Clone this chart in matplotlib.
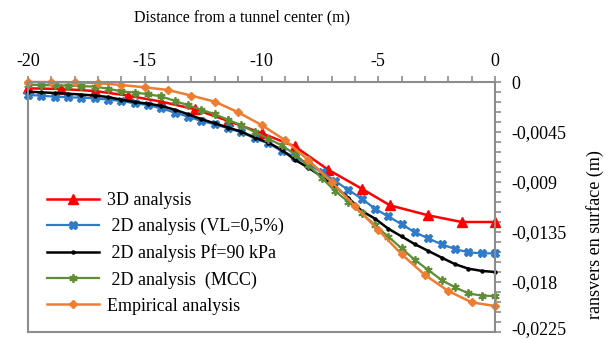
import numpy as np
import matplotlib
matplotlib.use("Agg")
import matplotlib.pyplot as plt
from matplotlib.ticker import FixedLocator, MultipleLocator, FixedFormatter

plt.rcParams['font.family'] = ['Liberation Serif', 'DejaVu Serif']

# ---------------- data ----------------
x_3d = [-20, -18.57, -17.14, -15.71, -14.29, -12.86, -11.43, -10.0, -8.57, -7.14,
        -5.71, -4.5, -2.86, -1.43, 0]
y_3d = [-0.00057, -0.00063, -0.00081, -0.00123, -0.00177, -0.00245, -0.0035, -0.0046,
        -0.0058, -0.0079, -0.0096, -0.0111, -0.0120, -0.0126, -0.0126]

x_2d = [-20.0, -19.43, -18.86, -18.29, -17.71, -17.14, -16.57, -16.0, -15.43, -14.86,
        -14.29, -13.71, -13.14, -12.57, -12.0, -11.43, -10.86, -10.29, -9.71, -9.14,
        -8.57, -8.0, -7.43, -6.86, -6.29, -5.71, -5.14, -4.57, -4.0, -3.43,
        -2.86, -2.29, -1.71, -1.14, -0.57, 0.0]

y_vl = [-0.00117, -0.00123, -0.00132, -0.00138, -0.00141, -0.00147, -0.00159, -0.00171,
        -0.00192, -0.00207, -0.00237, -0.00275, -0.00312, -0.00351, -0.00381, -0.00417,
        -0.00453, -0.00507, -0.00552, -0.00621, -0.00672, -0.0074, -0.0081, -0.0089,
        -0.0097, -0.0105, -0.0114, -0.0121, -0.0128, -0.01353, -0.01407, -0.01461,
        -0.01503, -0.01533, -0.01542, -0.01542]

y_pf = [-0.00087, -0.00093, -0.00099, -0.00105, -0.00113, -0.00122, -0.00135, -0.0016,
        -0.0018, -0.00195, -0.00215, -0.0025, -0.0029, -0.00335, -0.00372, -0.0041,
        -0.00447, -0.0050, -0.00545, -0.0061, -0.0070, -0.0077, -0.0085, -0.0094,
        -0.0104, -0.0116, -0.0123, -0.0132, -0.0139, -0.0146, -0.0152, -0.0158,
        -0.0164, -0.0168, -0.0170, -0.0171]

y_mcc = [-0.00025, -0.00027, -0.0003, -0.00033, -0.00037, -0.00042, -0.0006, -0.00085,
         -0.00095, -0.0011, -0.0013, -0.0017, -0.0021, -0.0025, -0.0029, -0.0034,
         -0.0039, -0.0045, -0.0051, -0.0057, -0.0065, -0.0075, -0.0086, -0.0098,
         -0.01077, -0.01182, -0.01287, -0.01392, -0.01497, -0.01602, -0.01692, -0.01782,
         -0.01848, -0.01902, -0.01923, -0.01926]

x_emp = [-20, -19, -18, -17, -16, -15, -14, -13, -12, -11, -10, -9, -8, -7, -6, -5,
         -4, -3, -2, -1, 0]
y_emp = [0.0, -0.00001, -0.00003, -0.0001, -0.00027, -0.00048, -0.00072, -0.00123,
         -0.00177, -0.00273, -0.00387, -0.00522, -0.00702, -0.00897, -0.01116, -0.01332,
         -0.0155, -0.01737, -0.01881, -0.01983, -0.02016]

labels = ["3D analysis", " 2D analysis (VL=0,5%)", " 2D analysis Pf=90 kPa",
          " 2D analysis  (MCC)", "Empirical analysis"]

x_ticks = [-20, -15, -10, -5, 0]
x_ticklabels = ["-20", "-15", "-10", "-5", "0"]
y_ticks = [0, -0.0045, -0.009, -0.0135, -0.018, -0.0225]
y_ticklabels = ["0", "-0,0045", "-0,009", "-0,0135", "-0,018", "-0,0225"]

title = "Distance from a tunnel center (m)"
ylabel = "ransvers en surface (m)"

# ---------------- figure ----------------
W, H = 608, 339
fig = plt.figure(figsize=(W / 100, H / 100), dpi=100)
ax = fig.add_axes([28 / W, 1 - 332 / H, (495 - 28) / W, (332 - 82) / H])

grey = '#8c8c8c'
ax.plot(x_3d, y_3d, color='#FF0000', lw=1.8, marker='^', ms=6.5, label=labels[0], clip_on=False)
ax.plot(x_2d, y_vl, color='#2E7BC9', lw=1.6, marker='X', ms=5.5, label=labels[1], clip_on=False)
ax.plot(x_2d, y_pf, color='#000000', lw=1.8, marker='o', ms=2.2, label=labels[2], clip_on=False)
ax.plot(x_2d, y_mcc, color='#5E8D36', lw=1.6, marker=(6, 2, 0), ms=6, mew=1.3,
        label=labels[3], clip_on=False)
ax.plot(x_emp, y_emp, color='#ED7D31', lw=1.8, marker='D', ms=4.2, label=labels[4], clip_on=False)

ax.set_xlim(-20, 0)
ax.set_ylim(-0.0225, 0)

ax.xaxis.tick_top()
ax.xaxis.set_major_locator(FixedLocator(x_ticks))
ax.xaxis.set_major_formatter(FixedFormatter(x_ticklabels))
ax.xaxis.set_minor_locator(MultipleLocator(1))

ax.yaxis.tick_right()
ax.yaxis.set_major_locator(FixedLocator(y_ticks))
# lowest label drawn separately so that it stays inside the picture
ax.yaxis.set_major_formatter(FixedFormatter(y_ticklabels[:-1] + [""]))
ax.yaxis.set_minor_locator(MultipleLocator(0.0009))

ax.tick_params(axis='both', which='both', direction='out', length=4.5, width=1.2,
               color=grey, labelsize=13)
ax.tick_params(axis='x', which='major', pad=4)
ax.tick_params(axis='y', which='major', pad=7)

for s in ax.spines.values():
    s.set_color(grey)
    s.set_linewidth(1.5)

fig.text(511 / W, 1 / H, y_ticklabels[-1], ha='left', va='bottom', fontsize=13)

fig.text(242 / W, 1 - 17 / H, title, ha='center', va='center', fontsize=11.5)
fig.text(595 / W, 1 - 150 / H, ylabel, rotation=90, ha='center', va='top', fontsize=13)

leg = ax.legend(loc='upper left', bbox_to_anchor=(47 / W, 1 - 192 / H),
                bbox_transform=fig.transFigure, frameon=False, fontsize=13,
                handlelength=2.9, handletextpad=0.4, labelspacing=0.5,
                borderpad=0, borderaxespad=0)

fig.savefig('out.png', dpi=100)
